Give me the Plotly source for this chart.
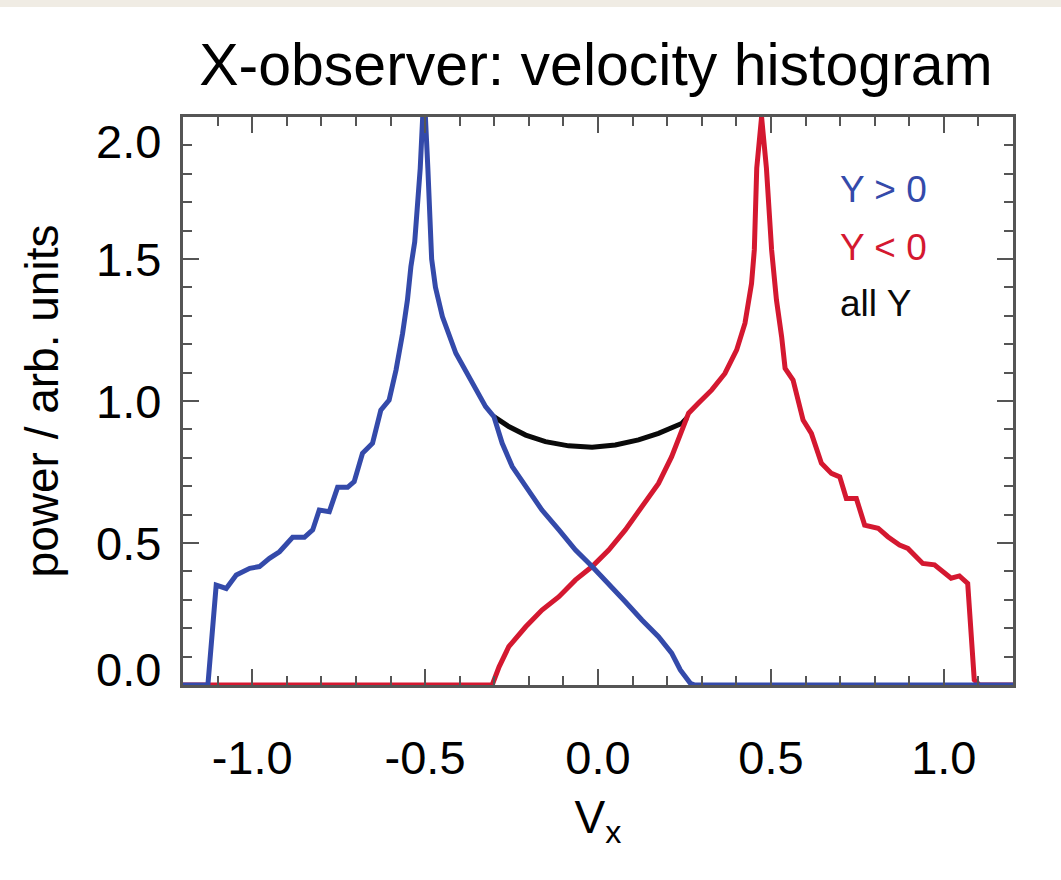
import plotly.graph_objects as go

# ---- data ----
vx_pos = [-1.2, -1.128, -1.104, -1.075, -1.046, -1.007, -0.979, -0.950, -0.921, -0.883,
          -0.849, -0.825, -0.806, -0.777, -0.753, -0.724, -0.705, -0.681, -0.652, -0.628,
          -0.604, -0.584, -0.565, -0.551, -0.541, -0.53, -0.514, -0.503, -0.492, -0.481,
          -0.47, -0.45, -0.411, -0.373, -0.344, -0.325, -0.301, -0.277, -0.248, -0.209,
          -0.162, -0.113, -0.065, -0.017, 0.031, 0.079, 0.127, 0.175, 0.213, 0.238,
          0.267, 0.28, 1.2]
pw_pos = [0, 0, 0.352, 0.34, 0.387, 0.411, 0.417, 0.446, 0.469, 0.52,
          0.52, 0.546, 0.616, 0.61, 0.696, 0.696, 0.716, 0.816, 0.851, 0.968,
          1.003, 1.109, 1.238, 1.356, 1.473, 1.56, 1.82, 2.1, 1.82, 1.5,
          1.4, 1.297, 1.168, 1.086, 1.027, 0.98, 0.945, 0.851, 0.769, 0.698,
          0.616, 0.546, 0.475, 0.417, 0.358, 0.293, 0.229, 0.17, 0.112, 0.053,
          0.006, 0, 0]

vx_neg = [-1.2, -0.306, -0.286, -0.258, -0.209, -0.162, -0.113, -0.065, -0.017, 0.031,
          0.079, 0.127, 0.175, 0.213, 0.242, 0.262, 0.29, 0.329, 0.367, 0.401,
          0.425, 0.444, 0.452, 0.459, 0.473, 0.487, 0.502, 0.516, 0.531, 0.541,
          0.564, 0.593, 0.617, 0.646, 0.675, 0.699, 0.718, 0.747, 0.771, 0.81,
          0.838, 0.872, 0.896, 0.939, 0.973, 1.021, 1.045, 1.069, 1.088, 1.103, 1.2]
pw_neg = [0, 0, 0.064, 0.135, 0.205, 0.264, 0.311, 0.37, 0.417, 0.475,
          0.546, 0.628, 0.71, 0.804, 0.898, 0.957, 0.992, 1.039, 1.097, 1.18,
          1.274, 1.414, 1.532, 1.82, 2.0, 1.82, 1.532, 1.356, 1.226, 1.115,
          1.074, 0.933, 0.886, 0.781, 0.745, 0.733, 0.657, 0.657, 0.563, 0.552,
          0.522, 0.493, 0.481, 0.428, 0.423, 0.376, 0.384, 0.358, 0.018, 0, 0]

vx_all = [-0.301, -0.258, -0.209, -0.152, -0.085, -0.017, 0.05, 0.117, 0.175, 0.242, 0.257]
pw_all = [0.945, 0.91, 0.88, 0.857, 0.842, 0.837, 0.845, 0.863, 0.886, 0.921, 0.94]

x_tickvals = [-1.0, -0.5, 0.0, 0.5, 1.0]
x_ticktext = ["-1.0", "-0.5", "0.0", "0.5", "1.0"]
y_tickvals = [0.0, 0.5, 1.0, 1.5, 2.0]
y_ticktext = ["0.0", "0.5", "1.0", "1.5", "2.0"]

legend_labels = ["Y > 0", "Y < 0", "all Y"]

BLUE = "rgb(52,74,170)"
RED = "rgb(212,24,48)"
BLACK = "rgb(10,10,10)"
AXIS = "rgb(85,85,85)"
FONT = "Liberation Sans, Arial, Helvetica, sans-serif"

fig = go.Figure()
fig.add_trace(go.Scatter(x=vx_all, y=pw_all, mode="lines",
                         line=dict(color=BLACK, width=5), showlegend=False))
fig.add_trace(go.Scatter(x=vx_neg, y=pw_neg, mode="lines",
                         line=dict(color=RED, width=5), showlegend=False))
fig.add_trace(go.Scatter(x=vx_pos, y=pw_pos, mode="lines",
                         line=dict(color=BLUE, width=5), showlegend=False))

# legend-like text labels
leg_colors = [BLUE, RED, BLACK]
leg_y = [1.746, 1.542, 1.345]
for lab, col, yy in zip(legend_labels, leg_colors, leg_y):
    fig.add_annotation(x=0.694, y=yy, xref="x", yref="y", text=lab, showarrow=False,
                       xanchor="left", yanchor="middle",
                       font=dict(family=FONT, size=37, color=col))

# y tick labels: ends nudged inward as in the reference
y_label_pos = [0.056, 0.5, 1.0, 1.5, 1.915]
for txt, yy in zip(y_ticktext, y_label_pos):
    fig.add_annotation(x=-0.024, y=yy, xref="paper", yref="y", text=txt, showarrow=False,
                       xanchor="right", yanchor="middle",
                       font=dict(family=FONT, size=47, color="black"))

# faint beige strip at very top of the image
fig.add_shape(type="rect", xref="paper", yref="paper", x0=-0.3, x1=1.1,
              y0=1 + 110 / 568, y1=1 + 118 / 568, line=dict(width=0),
              fillcolor="rgb(240,236,228)", layer="above")

fig.update_layout(
    width=1061, height=880,
    margin=dict(l=183, r=48, t=117, b=195),
    paper_bgcolor="white", plot_bgcolor="white",
    title=dict(text="X-observer: velocity histogram", x=596 / 1061, xanchor="center",
               y=1 - 64 / 880, yanchor="middle",
               font=dict(family=FONT, size=59, color="black")),
    font=dict(family=FONT, color="black"),
)

fig.update_xaxes(
    range=[-1.2, 1.2], tickvals=x_tickvals, ticktext=x_ticktext,
    ticks="inside", ticklen=16, tickwidth=2, tickcolor=AXIS,
    minor=dict(dtick=0.1, tick0=0, ticks="inside", ticklen=9, tickwidth=2, tickcolor=AXIS),
    showline=True, linewidth=2.5, linecolor=AXIS, mirror="ticks",
    showgrid=False, zeroline=False,
    tickfont=dict(family=FONT, size=47, color="black"), ticklabelstandoff=30,
    title=dict(text="V<sub>x</sub>", font=dict(family=FONT, size=46, color="black"), standoff=18),
)
fig.update_yaxes(
    range=[0, 2.0], tickvals=y_tickvals, showticklabels=False,
    ticks="inside", ticklen=16, tickwidth=2, tickcolor=AXIS,
    minor=dict(dtick=0.1, tick0=0, ticks="inside", ticklen=9, tickwidth=2, tickcolor=AXIS),
    showline=True, linewidth=2.5, linecolor=AXIS, mirror="ticks",
    showgrid=False, zeroline=False,
    title=dict(text="power / arb. units", font=dict(family=FONT, size=46, color="black"),
               standoff=108),
)

fig.write_html("out.html", config={"displayModeBar": False},
               post_script="document.body.style.margin='0';")
